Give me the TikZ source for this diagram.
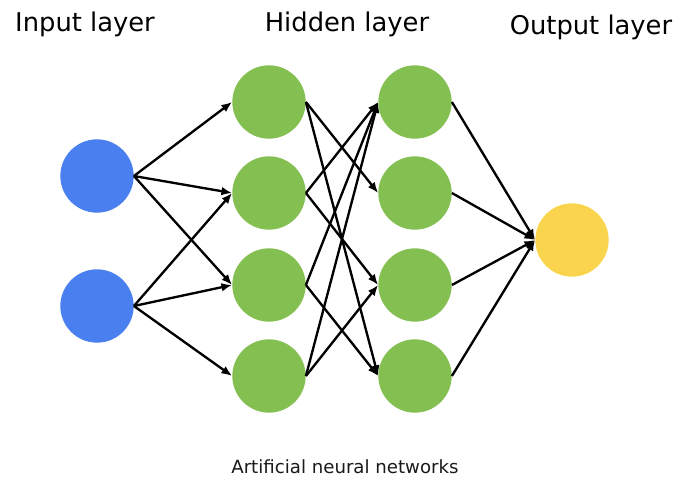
\documentclass[tikz,border=0pt]{standalone}
\usepackage{fontspec}
\setmainfont{DejaVu Sans}
\usetikzlibrary{arrows.meta}
\definecolor{inblue}{HTML}{4A7FEF}
\definecolor{hidgreen}{HTML}{84BF52}
\definecolor{outyellow}{HTML}{F9D44C}
\tikzset{
  neuron/.style={circle,draw=none,fill=#1,minimum size=2.2cm,inner sep=0pt},
  layertitle/.style={font=\fontsize{22}{25}\selectfont,text=black},
  caption/.style={font=\fontsize{15.5}{18}\selectfont,text=black!90},
  link/.style={-{Latex[length=3.2mm,width=2.6mm]},line width=2pt,draw=black}
}
\begin{document}
\begin{tikzpicture}[x=0.03cm,y=-0.03cm]
  \useasboundingbox (0,0) rectangle (690,481);

  % layer titles
  \node[layertitle] (tin) at (85,24) {Input layer};
  \node[layertitle] (thid) at (347,24) {Hidden layer};
  \node[layertitle] (tout) at (591,27) {Output layer};

  % input layer
  \node[neuron=inblue] (in1) at (97,176) {};
  \node[neuron=inblue] (in2) at (97,306) {};

  % first hidden column
  \node[neuron=hidgreen] (ha1) at (269,102) {};
  \node[neuron=hidgreen] (ha2) at (269,193) {};
  \node[neuron=hidgreen] (ha3) at (269,285) {};
  \node[neuron=hidgreen] (ha4) at (269,376) {};

  % second hidden column
  \node[neuron=hidgreen] (hb1) at (415,102) {};
  \node[neuron=hidgreen] (hb2) at (415,193) {};
  \node[neuron=hidgreen] (hb3) at (415,285) {};
  \node[neuron=hidgreen] (hb4) at (415,376) {};

  % output
  \node[neuron=outyellow] (out) at (572,240) {};

  % input -> hidden
  \draw[link] (in1.east) -- (ha1.west);
  \draw[link] (in1.east) -- (ha2.west);
  \draw[link] (in1.east) -- (ha3.west);
  \draw[link] (in2.east) -- (ha2.west);
  \draw[link] (in2.east) -- (ha3.west);
  \draw[link] (in2.east) -- (ha4.west);

  % hidden -> hidden
  \draw[link] (ha1.east) -- (hb2.west);
  \draw[link] (ha1.east) -- (hb4.west);
  \draw[link] (ha2.east) -- (hb1.west);
  \draw[link] (ha2.east) -- (hb3.west);
  \draw[link] (ha3.east) -- (hb1.west);
  \draw[link] (ha3.east) -- (hb4.west);
  \draw[link] (ha4.east) -- (hb1.west);
  \draw[link] (ha4.east) -- (hb3.west);

  % hidden -> output
  \draw[link] (hb1.east) -- (out.west);
  \draw[link] (hb2.east) -- (out.west);
  \draw[link] (hb3.east) -- (out.west);
  \draw[link] (hb4.east) -- (out.west);

  \node[caption] (cap) at (345,467) {Artificial neural networks};
\end{tikzpicture}
\end{document}
